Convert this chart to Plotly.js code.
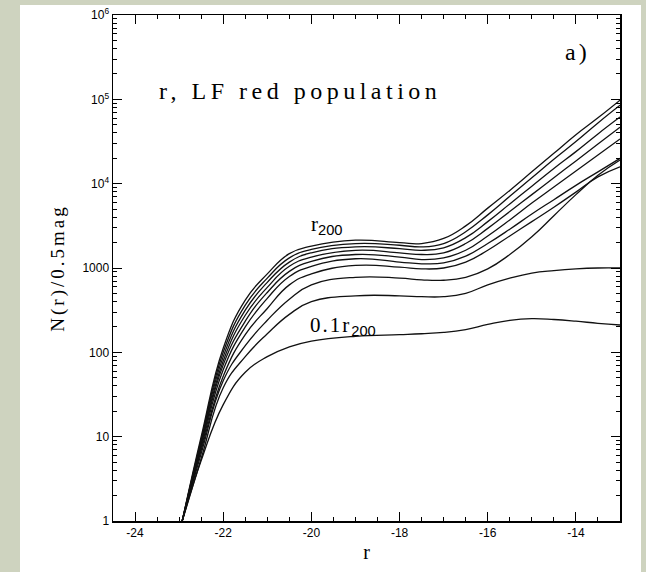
<!DOCTYPE html>
<html><head><meta charset="utf-8">
<script src="https://cdn.plot.ly/plotly-3.0.1.min.js"></script>
<style>
html,body{margin:0;padding:0;background:#ced3bf;width:646px;height:572px;overflow:hidden}
#chart{position:absolute;left:20px;top:5px;width:621px;height:567px;background:#fff}
</style></head><body><div id="chart"></div>
<script>
// absolute magnitude r (x)
const rMag = [-22.93, -22.5, -22, -21.5, -21, -20.5, -20, -19, -18, -17.5, -17, -16.5, -16, -15.5, -15, -14.5, -14, -13.5, -13];
// N(r)/0.5mag inside apertures 0.1 r200 ... 1.0 r200
const N_01r200 = [1, 5.2, 24, 58, 89, 116, 136, 155, 162, 166, 172, 186, 214, 240, 251, 245, 234, 221, 211];
const N_02r200 = [1, 5.5, 38, 89, 166, 282, 398, 468, 468, 457, 457, 501, 631, 759, 871, 933, 977, 1000, 1000];
const N_03r200 = [1, 6.3, 46, 120, 240, 427, 631, 776, 759, 724, 716, 776, 977, 1445, 2344, 4169, 7413, 12590, 19050];
const N_04r200 = [1, 6.9, 52, 162, 331, 631, 851, 1072, 1023, 977, 1000, 1175, 1622, 2399, 3548, 5248, 7943, 12020, 15850];
const N_05r200 = [1, 7.4, 62, 200, 437, 794, 1047, 1288, 1175, 1122, 1148, 1380, 1950, 2884, 4365, 6457, 9550, 13800, 19950];
const N_06r200 = [1, 7.9, 71, 234, 513, 912, 1202, 1445, 1349, 1259, 1318, 1622, 2399, 3715, 5888, 9120, 14130, 21880, 33880];
const N_07r200 = [1, 8.3, 79, 275, 589, 1047, 1349, 1622, 1514, 1445, 1514, 1950, 2951, 4677, 7413, 11750, 18620, 29510, 46770];
const N_08r200 = [1, 8.9, 89, 316, 676, 1175, 1514, 1778, 1698, 1622, 1738, 2291, 3548, 5754, 9333, 15140, 23990, 38900, 61660];
const N_09r200 = [1, 9.3, 100, 363, 759, 1318, 1660, 1950, 1862, 1778, 1950, 2692, 4266, 7079, 11750, 19500, 31600, 52500, 85100];
const N_10r200 = [1, 10, 112, 417, 851, 1479, 1820, 2138, 1995, 1950, 2239, 3162, 5129, 8318, 13800, 22900, 38000, 60300, 97700];

const xTickVals = [-24, -22, -20, -18, -16, -14];
const yTickVals = [1, 10, 100, 1000, 1e4, 1e5, 1e6];
const yTickText = ['1', '10', '100', '1000', '10<sup>4</sup>', '10<sup>5</sup>', '10<sup>6</sup>'];

const series = [N_01r200, N_02r200, N_03r200, N_04r200, N_05r200, N_06r200, N_07r200, N_08r200, N_09r200, N_10r200];
const names = ['0.1 r200','0.2 r200','0.3 r200','0.4 r200','0.5 r200','0.6 r200','0.7 r200','0.8 r200','0.9 r200','r200'];

const traces = series.map((s, i) => ({
  x: rMag, y: s, type: 'scatter', mode: 'lines', name: names[i],
  line: {color: '#111', width: 1.3, shape: 'spline', smoothing: 1.3},
  hoverinfo: 'skip'
}));

const serif = 'Liberation Serif, Times New Roman, serif';
const sans = 'Liberation Sans, Arial, sans-serif';

const layout = {
  width: 621, height: 567,
  margin: {l: 93, r: 21, t: 10, b: 51},
  paper_bgcolor: '#ffffff', plot_bgcolor: '#ffffff',
  showlegend: false,
  font: {family: sans, size: 12, color: '#000'},
  xaxis: {
    range: [-24.5, -13], tickvals: xTickVals, ticktext: xTickVals.map(String),
    ticks: 'inside', ticklen: 9, tickwidth: 1, tickcolor: '#000',
    minor: {dtick: 0.5, tick0: -24, ticks: 'inside', ticklen: 4, tickcolor: '#000', showgrid: false},
    showline: true, linecolor: '#000', linewidth: 1.5, mirror: 'ticks',
    showgrid: false, zeroline: false,
    tickfont: {family: sans, size: 12, color: '#000'},
    title: {text: 'r', font: {family: serif, size: 20, color: '#000'}, standoff: 6}
  },
  yaxis: {
    type: 'log', range: [0, 6], tickvals: yTickVals, ticktext: yTickText,
    ticks: 'inside', ticklen: 9, tickwidth: 1, tickcolor: '#000',
    minor: {dtick: 'D1', ticks: 'inside', ticklen: 4, tickcolor: '#000', showgrid: false},
    showline: true, linecolor: '#000', linewidth: 1.5, mirror: 'ticks',
    showgrid: false, zeroline: false,
    tickfont: {family: sans, size: 12, color: '#000'},
    title: {text: '<span style="letter-spacing:3px">N(r)/0.5mag</span>', font: {family: serif, size: 19, color: '#000'}, standoff: 12}
  },
  annotations: [
    {xref: 'paper', yref: 'paper', x: 0.369, y: 0.85, xanchor: 'center', yanchor: 'middle', showarrow: false,
     text: '<span style="letter-spacing:4.5px">r, LF red population</span>', font: {family: serif, size: 24, color: '#000'}},
    {xref: 'paper', yref: 'paper', x: 0.916, y: 0.927, xanchor: 'center', yanchor: 'middle', showarrow: false,
     text: '<span style="letter-spacing:3px">a)</span>', font: {family: serif, size: 24, color: '#000'}},
    {xref: 'paper', yref: 'paper', x: 0.387, y: 0.585, xanchor: 'left', yanchor: 'middle', showarrow: false,
     text: 'r<sub><span style="font-family:Liberation Sans">200</span></sub>', font: {family: serif, size: 21, color: '#000'}},
    {xref: 'paper', yref: 'paper', x: 0.385, y: 0.385, xanchor: 'left', yanchor: 'middle', showarrow: false,
     text: '<span style="letter-spacing:2px">0.1r</span><sub><span style="font-family:Liberation Sans">200</span></sub>', font: {family: serif, size: 21, color: '#000'}}
  ]
};

Plotly.newPlot('chart', traces, layout, {displayModeBar: false, staticPlot: true});
</script></body></html>
